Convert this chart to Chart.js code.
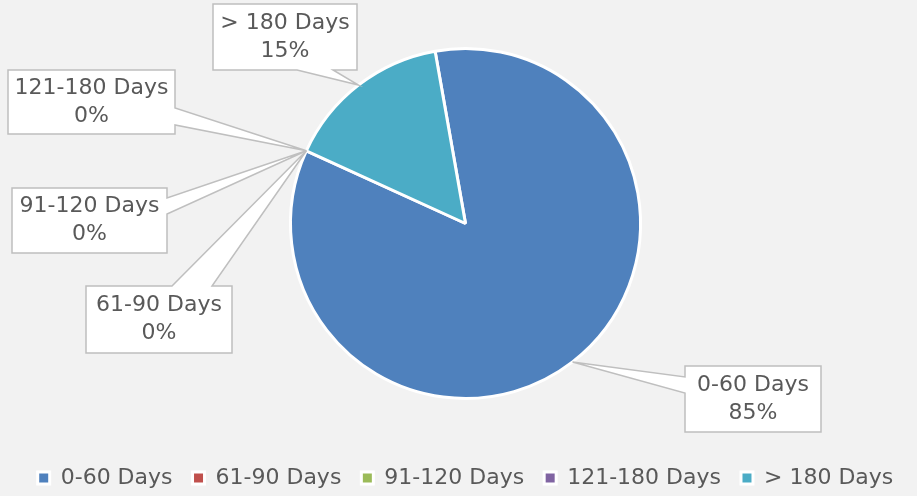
<!DOCTYPE html>
<html>
<head>
<meta charset="utf-8">
<script src="https://cdn.jsdelivr.net/npm/chart.js@4.4.0/dist/chart.umd.min.js"></script>
<style>
  html, body { margin: 0; padding: 0; background: #f2f2f2; }
</style>
</head>
<body>
<canvas id="chart" width="917" height="496"></canvas>
<script>
const categories = ['0-60 Days', '61-90 Days', '91-120 Days', '121-180 Days', '> 180 Days']
const shares = [84.6, 0, 0, 0, 15.4]
const colors = ['#4f81bd', '#c0504d', '#9bbb59', '#8064a2', '#4bacc6']

const FONT = '"DejaVu Sans", Verdana, sans-serif'
const total = shares.reduce((a, b) => a + b, 0)
const percentLabels = shares.map(v => Math.round(v / total * 100) + '%')

// callout boxes, one per slice (same order as categories)
const callouts = [
    { x: 685, y: 366, w: 136, h: 66, side: 'left', b: [377, 393] },
    { x: 86, y: 286, w: 146, h: 67, side: 'top', b: [172, 212] },
    { x: 12, y: 188, w: 155, h: 65, side: 'right', b: [198, 214] },
    { x: 8, y: 70, w: 167, h: 64, side: 'right', b: [108, 125] },
    { x: 213, y: 4, w: 144, h: 66, side: 'bottom', b: [297, 333] }
]

const calloutPlugin = {
    id: 'callouts',
    afterDatasetsDraw(chart) {
        const ctx = chart.ctx
        const arcs = chart.getDatasetMeta(0).data
        ctx.save()
        arcs.forEach((arc, i) => {
            const c = callouts[i]
            const p = arc.getProps(['x', 'y', 'startAngle', 'endAngle', 'outerRadius'], true)
            const mid = (p.startAngle + p.endAngle) / 2
            const tx = p.x + Math.cos(mid) * p.outerRadius
            const ty = p.y + Math.sin(mid) * p.outerRadius
            const r = c.x + c.w, btm = c.y + c.h
            ctx.beginPath()
            ctx.moveTo(c.x, c.y)
            if (c.side == 'top') {
                ctx.lineTo(c.b[0], c.y); ctx.lineTo(tx, ty); ctx.lineTo(c.b[1], c.y)
            }
            ctx.lineTo(r, c.y)
            if (c.side == 'right') {
                ctx.lineTo(r, c.b[0]); ctx.lineTo(tx, ty); ctx.lineTo(r, c.b[1])
            }
            ctx.lineTo(r, btm)
            if (c.side == 'bottom') {
                ctx.lineTo(c.b[1], btm); ctx.lineTo(tx, ty); ctx.lineTo(c.b[0], btm)
            }
            ctx.lineTo(c.x, btm)
            if (c.side == 'left') {
                ctx.lineTo(c.x, c.b[1]); ctx.lineTo(tx, ty); ctx.lineTo(c.x, c.b[0])
            }
            ctx.closePath()
            ctx.fillStyle = '#ffffff'
            ctx.fill()
            ctx.lineWidth = 1.5
            ctx.strokeStyle = '#bfbfbf'
            ctx.stroke()

            ctx.fillStyle = '#595959'
            ctx.font = '22px ' + FONT
            ctx.textAlign = 'center'
            ctx.textBaseline = 'middle'
            const cx = c.x + c.w / 2, cy = c.y + c.h / 2
            ctx.fillText(categories[i], cx, cy - 14)
            ctx.fillText(percentLabels[i], cx, cy + 14)
        })
        ctx.restore()
    }
}

const bgPlugin = {
    id: 'bg',
    beforeDraw(chart) {
        const ctx = chart.ctx
        ctx.save()
        ctx.fillStyle = '#f2f2f2'
        ctx.fillRect(0, 0, chart.width, chart.height)
        ctx.restore()
    }
}

const ctx = document.getElementById('chart').getContext('2d')
const myChart = new Chart(ctx, {
    type: 'pie',
    data: {
        labels: categories,
        datasets: [{
            data: shares,
            backgroundColor: colors,
            borderColor: '#ffffff',
            borderWidth: 3
        }]
    },
    options: {
        responsive: false,
        animation: false,
        rotation: -10,
        radius: 175,
        layout: {
            padding: { top: -4, left: 14, right: 0, bottom: -3 }
        },
        plugins: {
            tooltip: { enabled: false },
            legend: {
                position: 'bottom',
                labels: {
                    boxWidth: 12,
                    boxHeight: 12,
                    padding: 20,
                    color: '#595959',
                    font: { family: FONT, size: 22 }
                }
            }
        }
    },
    plugins: [bgPlugin, calloutPlugin]
});
</script>
</body>
</html>
